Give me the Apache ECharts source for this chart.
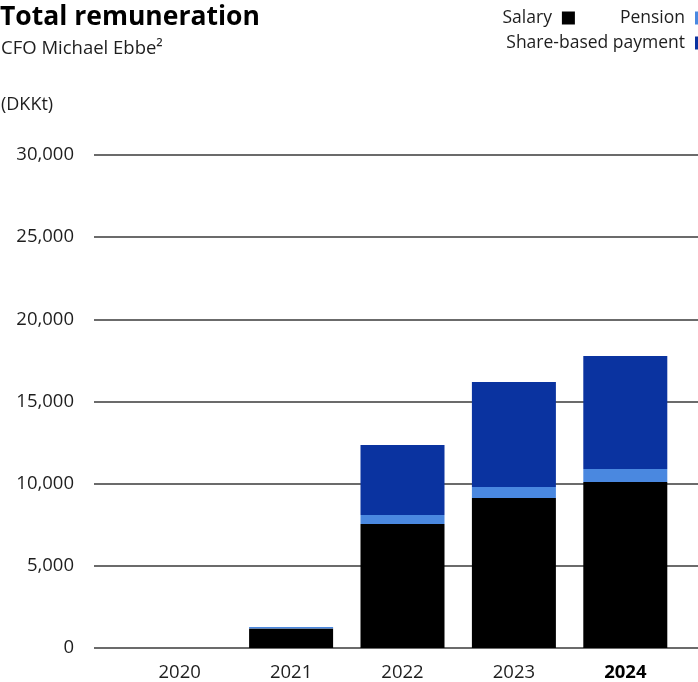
<!DOCTYPE html>
<html>
<head>
<meta charset="utf-8">
<script src="https://cdn.jsdelivr.net/npm/echarts@6/dist/echarts.min.js"></script>
<style>
  html, body { margin: 0; padding: 0; background: #fff; }
  #chart { width: 698px; height: 682px; }
</style>
</head>
<body>
<div id="chart"></div>
<script>
// Total remuneration of the CFO, DKK thousands
const years = ['2020', '2021', '2022', '2023', '2024'];
const salary = [0, 1190, 7550, 9130, 10100];
const pension = [0, 90, 540, 670, 790];
const shareBased = [0, 0, 4270, 6390, 6880];
const highlightYear = '2024';

const FONT = '"Open Sans", "Noto Sans", sans-serif';
const C_SALARY = '#000000';
const C_PENSION = '#4a88e0';
const C_SHARE = '#0a33a0';
const C_TEXT = '#1e1e1e';
const LABEL_SIZE = 18.5;

const chart = echarts.init(document.getElementById('chart'), null, { renderer: 'canvas' });

const plotTop = 155, plotBottom = 34;

chart.setOption({
  animation: false,
  textStyle: { fontFamily: FONT },
  title: [
    { text: 'Total remuneration', left: -5, top: -1,
      textStyle: { fontFamily: FONT, fontSize: 26.5, fontWeight: 'bold', color: '#000' } },
    { text: 'CFO Michael Ebbe²', left: -4, top: 34,
      textStyle: { fontFamily: FONT, fontSize: 18.5, fontWeight: 'normal', color: C_TEXT } },
    { text: '(DKKt)', left: -4, top: 91,
      textStyle: { fontFamily: FONT, fontSize: 18, fontWeight: 'normal', color: C_TEXT } }
  ],
  legend: [
    { data: ['Salary', 'Pension'], right: -10, top: 9, align: 'right', icon: 'rect',
      itemWidth: 13, itemHeight: 13, itemGap: 45, padding: 0,
      textStyle: { fontFamily: FONT, fontSize: 17.5, color: C_TEXT, padding: [0, 5, 0, 0] } },
    { data: ['Share-based payment'], right: -10, top: 34, align: 'right', icon: 'rect',
      itemWidth: 13, itemHeight: 13, padding: 0,
      textStyle: { fontFamily: FONT, fontSize: 17.5, color: C_TEXT, padding: [0, 5, 0, 0] } }
  ],
  grid: [
    { left: 94, right: 0, top: plotTop, bottom: plotBottom },
    { left: 124, right: 17, top: plotTop, bottom: plotBottom }
  ],
  xAxis: [
    { gridIndex: 0, type: 'category', data: years, show: false },
    { gridIndex: 1, type: 'category', data: years,
      axisLine: { show: false }, axisTick: { show: false },
      axisLabel: {
        margin: 15, fontFamily: FONT, fontSize: LABEL_SIZE, color: C_TEXT,
        formatter: v => v === highlightYear ? '{b|' + v + '}' : v,
        rich: { b: { fontFamily: FONT, fontSize: LABEL_SIZE, fontWeight: 'bold', color: '#000' } }
      } }
  ],
  yAxis: [
    { gridIndex: 0, type: 'value', min: 0, max: 30000, interval: 5000,
      axisLine: { show: false }, axisTick: { show: false },
      axisLabel: { margin: 20, fontFamily: FONT, fontSize: LABEL_SIZE, color: C_TEXT },
      splitLine: { show: true, lineStyle: { color: '#3a3a3a', width: 1.5 } } },
    { gridIndex: 1, type: 'value', min: 0, max: 30000, interval: 5000, show: false,
      splitLine: { show: false } }
  ],
  series: [
    { name: 'Salary', type: 'bar', stack: 'total', xAxisIndex: 1, yAxisIndex: 1,
      barWidth: 84, data: salary, itemStyle: { color: C_SALARY } },
    { name: 'Pension', type: 'bar', stack: 'total', xAxisIndex: 1, yAxisIndex: 1,
      barWidth: 84, data: pension, itemStyle: { color: C_PENSION } },
    { name: 'Share-based payment', type: 'bar', stack: 'total', xAxisIndex: 1, yAxisIndex: 1,
      barWidth: 84, data: shareBased, itemStyle: { color: C_SHARE } }
  ]
});
</script>
</body>
</html>
